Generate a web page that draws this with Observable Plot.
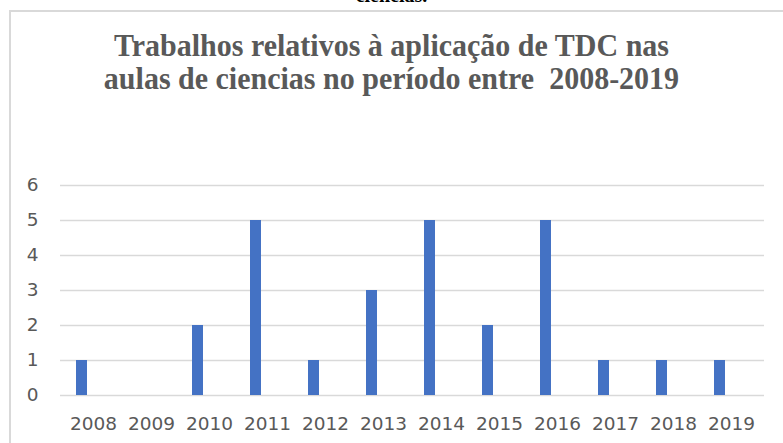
<!DOCTYPE html>
<html>
<head>
<meta charset="utf-8">
<script src="https://cdn.jsdelivr.net/npm/d3@7"></script>
<script src="https://cdn.jsdelivr.net/npm/@observablehq/plot@0.6"></script>
<style>
  html, body { margin: 0; padding: 0; background: #fff; overflow: hidden; }
  #wrap { position: relative; width: 783px; height: 443px; overflow: hidden; }
  #frame { position: absolute; left: 9px; top: 10px; width: 800px; height: 460px; border: 2px solid #d9d9d9; box-sizing: border-box; }
  #above { position: absolute; left: 0; width: 783px; top: -16px; text-align: center; font: bold 20px "Liberation Serif", serif; color: #000; }
  #title { position: absolute; left: 0; width: 783px; top: 30px; text-align: center; font: bold 30px/30.5px "Liberation Serif", serif; color: #595959; transform: scaleY(1.05); transform-origin: 50% 0; white-space: nowrap; }
  #chart { position: absolute; left: 0; top: 0; }
</style>
</head>
<body>
<div id="wrap">
  <div id="above">ciencias.</div>
  <div id="frame"></div>
  <div id="title">Trabalhos relativos à aplicação de TDC nas<br>aulas de ciencias no período entre&nbsp; 2008-2019</div>
  <div id="chart"></div>
</div>
<script>
const years = ["2008","2009","2010","2011","2012","2013","2014","2015","2016","2017","2018","2019"];
const counts = [1, 0, 2, 5, 1, 3, 5, 2, 5, 1, 1, 1];
const yTicks = [0, 1, 2, 3, 4, 5, 6];

const data = years.map((y, i) => ({year: y, count: counts[i]}));

const chart = Plot.plot({
  width: 783,
  height: 443,
  marginLeft: 60,
  marginRight: 19,
  marginTop: 185,
  marginBottom: 48,
  style: {background: "transparent", fontFamily: "'DejaVu Sans', sans-serif", fontSize: "18.5px", color: "#595959"},
  x: {domain: years, padding: 0, label: null, tickSize: 0, tickPadding: 21},
  y: {domain: [0, 6], ticks: yTicks, tickFormat: "d", label: null, tickSize: 0, tickPadding: 22},
  marks: [
    Plot.gridY(yTicks, {stroke: "#d9d9d9", strokeOpacity: 1, strokeWidth: 1.5}),
    Plot.barY(data.filter(d => d.count > 0), {x: "year", y: "count", fill: "#4472C4", insetLeft: 12, insetRight: 35})
  ]
});
chart.querySelectorAll("text").forEach(t => t.setAttribute("fill", "#595959"));
document.getElementById("chart").appendChild(chart);
</script>
</body>
</html>
